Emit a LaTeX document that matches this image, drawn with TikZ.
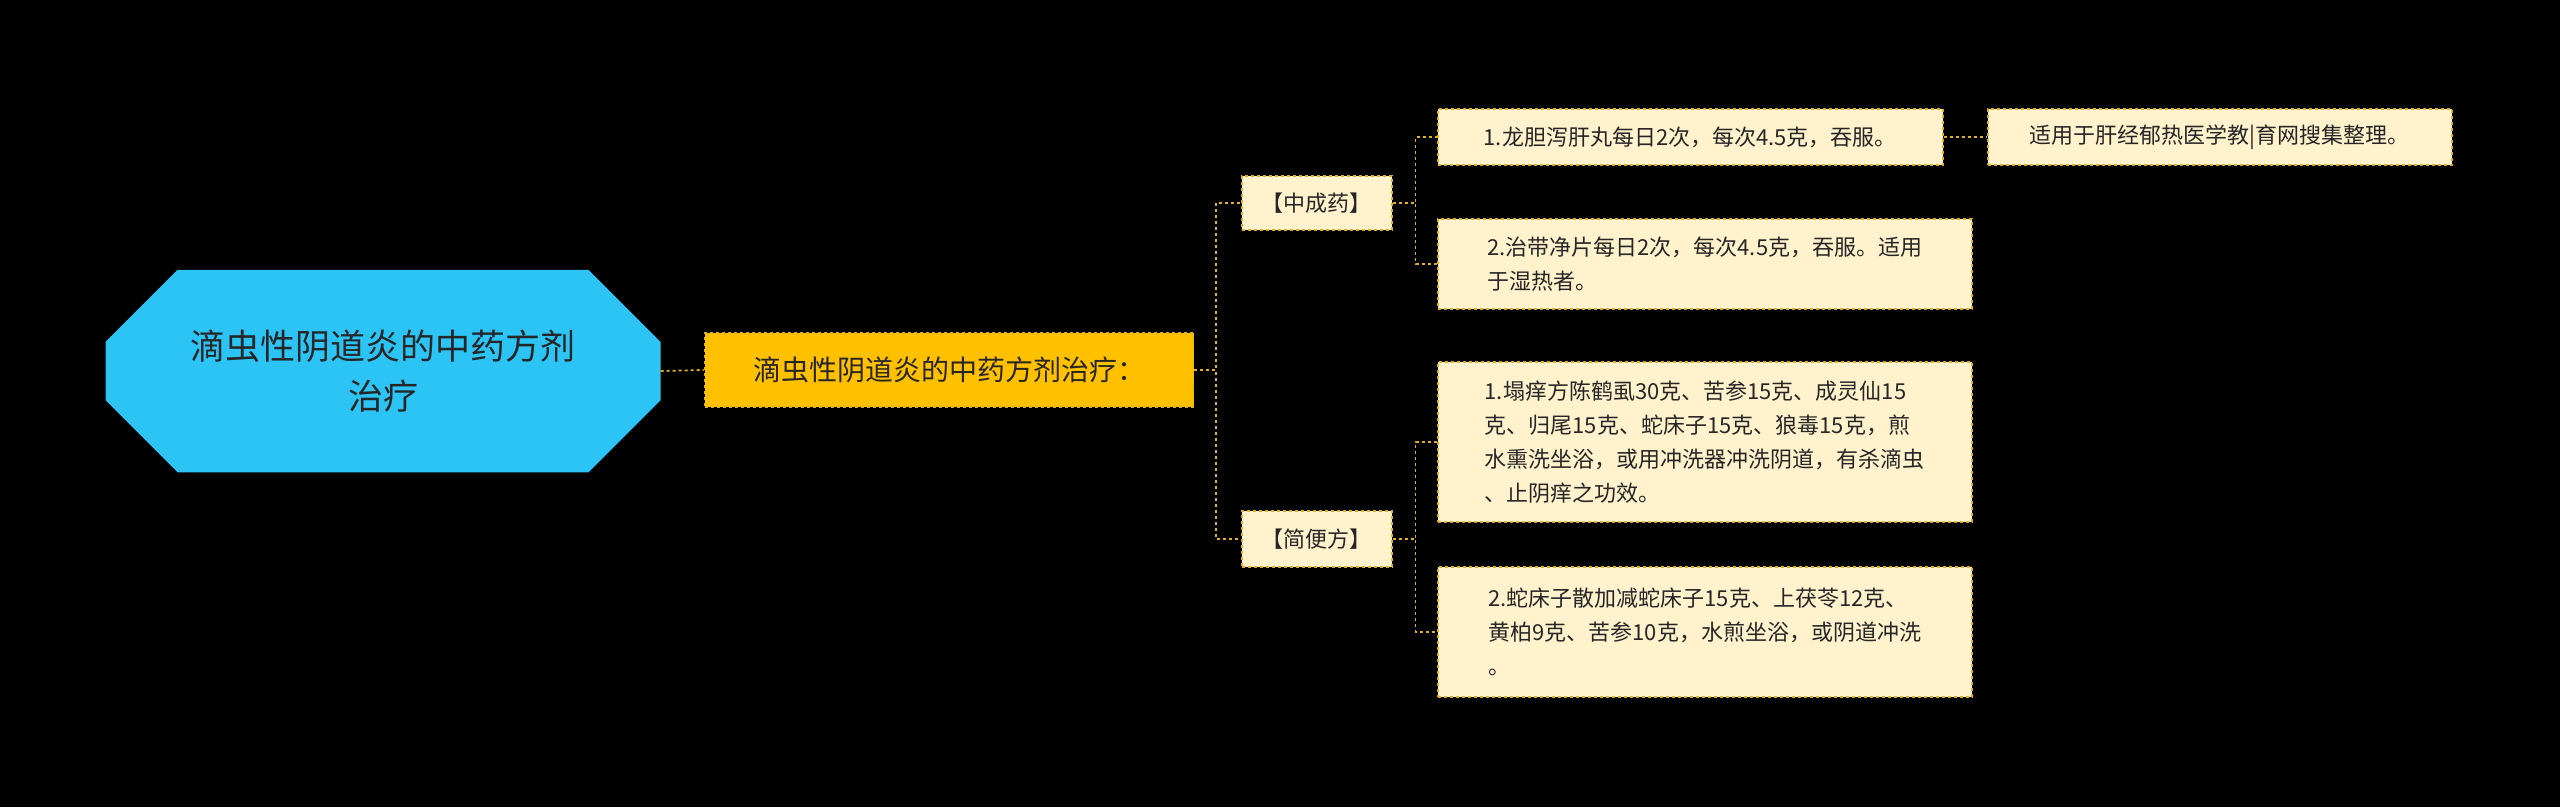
\documentclass[tikz,border=0pt]{standalone}
\usepackage{fontspec}
\setmainfont{Noto Sans CJK SC}
\usetikzlibrary{shapes.geometric,shapes.misc}
\definecolor{leaff}{HTML}{FFF2CC}
\definecolor{lineY}{HTML}{E0B020}
\definecolor{midf}{HTML}{FFC000}
\definecolor{rootf}{HTML}{2CC3F5}
\tikzset{
 leaf/.style={draw=lineY,dashed,line width=1.5pt,fill=leaff,anchor=west,align=left,font=\fontsize{22}{34}\selectfont,inner xsep=12pt,inner ysep=10pt,text=black!85},
 con/.style={draw=lineY,dashed,line width=1.8pt},
}
\begin{document}
\begin{tikzpicture}[x=1pt,y=-1pt]
\fill[black] (0,0) rectangle (2560,807);
\useasboundingbox (0,0) rectangle (2560,807);
\node[fill=rootf,chamfered rectangle,chamfered rectangle corners={north west,south west,north east,south east},chamfered rectangle xsep=12pt,chamfered rectangle ysep=60pt,minimum width=555pt,minimum height=161pt,inner sep=0pt,align=center,font=\fontsize{35}{50}\selectfont,text=black!85] (root) at (383,371) {滴虫性阴道炎的中药方剂\\治疗};
\node[draw=lineY,dashed,line width=1.5pt,fill=midf,minimum width=489pt,minimum height=74pt,font=\fontsize{28}{34}\selectfont,text=black!85] (mid) at (949,370) {滴虫性阴道炎的中药方剂治疗：};
\node[leaf,minimum width=150pt,minimum height=54pt,align=center] (a) at (1241,203) {【中成药】};
\node[leaf,minimum width=150pt,minimum height=56pt,align=center] (b) at (1241,539) {【简便方】};
\node[leaf,minimum width=505pt,minimum height=56pt] (l1) at (1437,137) {1.龙胆泻肝丸每日2次，每次4.5克，吞服。};
\node[leaf,minimum width=464pt,minimum height=56pt] (l1a) at (1987,137) {适用于肝经郁热医学教|育网搜集整理。};
\node[leaf,minimum width=534pt,minimum height=90pt] (l2) at (1437,264) {2.治带净片每日2次，每次4.5克，吞服。适用\\于湿热者。};
\node[leaf,minimum width=534pt,minimum height=160pt] (l3) at (1437,442) {1.塌痒方陈鹤虱30克、苦参15克、成灵仙15\\克、归尾15克、蛇床子15克、狼毒15克，煎\\水熏洗坐浴，或用冲洗器冲洗阴道，有杀滴虫\\、止阴痒之功效。};
\node[leaf,minimum width=534pt,minimum height=130pt] (l4) at (1437,632) {2.蛇床子散加减蛇床子15克、上茯苓12克、\\黄柏9克、苦参10克，水煎坐浴，或阴道冲洗\\。};
\draw[con] (root.east) -- (mid.west);
\draw[con] (mid.east) -- ++(22,0) |- (a.west);
\draw[con] (mid.east) -- ++(22,0) |- (b.west);
\draw[con] (a.east) -- ++(23,0) |- (l1.west);
\draw[con] (a.east) -- ++(23,0) |- (l2.west);
\draw[con] (b.east) -- ++(23,0) |- (l3.west);
\draw[con] (b.east) -- ++(23,0) |- (l4.west);
\draw[con] (l1.east) -- (l1a.west);
\end{tikzpicture}
\end{document}
